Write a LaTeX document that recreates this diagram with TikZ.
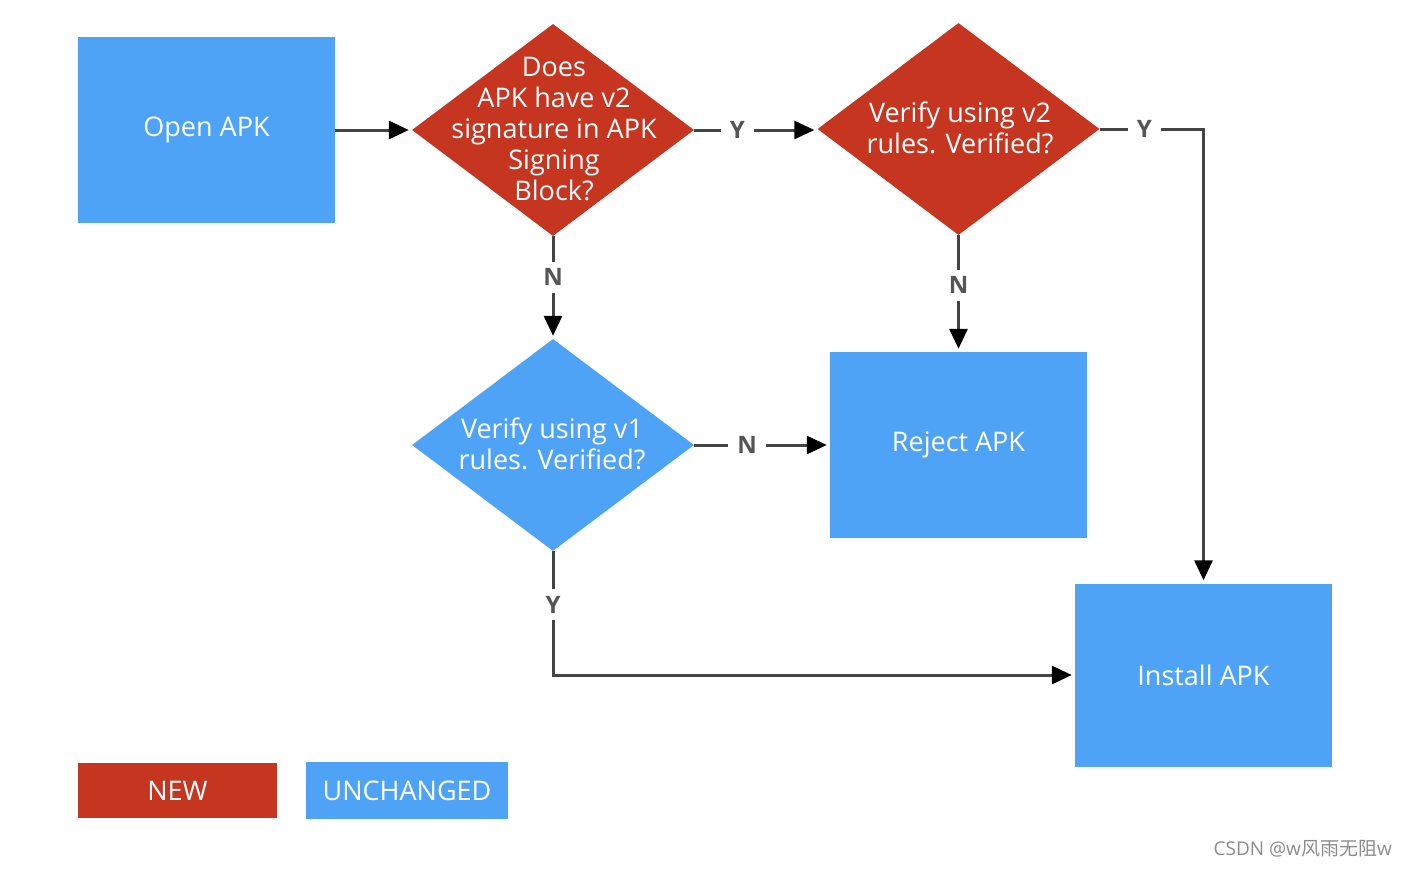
\documentclass[tikz,border=0pt]{standalone}
\usepackage{fontspec}
\setmainfont{Open Sans}
\newfontfamily\cjk{Noto Sans CJK SC}
\usetikzlibrary{shapes.geometric,arrows.meta}
\definecolor{newred}{HTML}{C5351F}
\definecolor{oldblue}{HTML}{4FA3F7}
\definecolor{linegray}{HTML}{444444}
\definecolor{labgray}{HTML}{555555}
\tikzset{
  boxnode/.style={rectangle,fill=oldblue,inner sep=0pt,text=white,font=\fontsize{27}{31}\selectfont},
  dia/.style={diamond,inner sep=0pt,minimum width=282pt,minimum height=212pt,aspect=1.33},
  diatext/.style={text=white,align=center,font=\fontsize{27}{31}\selectfont},
  conn/.style={draw=linegray,line width=3pt,-{Triangle[length=20pt,width=18pt,color=black]},shorten >=3pt},
  yn/.style={fill=white,text=labgray,font=\fontsize{24}{24}\selectfont\bfseries,inner xsep=9pt,inner ysep=7pt},
  legendbox/.style={rectangle,inner sep=0pt,text=white,font=\fontsize{27}{31}\selectfont},
}
\begin{document}
\begin{tikzpicture}[x=1pt,y=-1pt]
\useasboundingbox (0,0) rectangle (1406,868);
% boxes
\node[boxnode,minimum width=257pt,minimum height=186pt] (open) at (206.5,130) {Open APK};
\node[boxnode,minimum width=257pt,minimum height=186pt] (reject) at (958.5,445) {Reject APK};
\node[boxnode,minimum width=257pt,minimum height=183pt] (install) at (1203.5,675) {Install APK};
% diamonds
\node[dia,fill=newred] (d1) at (553,130) {};
\node[diatext] at (554,129) {Does\\APK have v2\\signature in APK\\Signing\\Block?};
\node[dia,fill=newred] (d2) at (958.5,129) {};
\node[diatext] at (960,128) {Verify using v2\\rules. Verified?};
\node[dia,fill=oldblue] (d3) at (553,445) {};
\node[diatext] at (552,444) {Verify using v1\\rules. Verified?};
% connectors
\draw[conn] (open.east) -- (d1.west);
\draw[conn] (d1.east) -- node[yn,pos=0.35] {Y} (d1.east -| d2.west);
\draw[conn] (d1.south) -- node[yn,pos=0.4] {N} (d3.north);
\draw[conn] (d2.south) -- node[yn,pos=0.43] {N} (reject.north);
\draw[conn] (d3.east) -- node[yn,pos=0.39] {N} (reject.west);
\coordinate (c1) at (install.north |- d2.east);
\draw[conn] (d2.east) -- node[yn,pos=0.43] {Y} (c1) -- (install.north);
\coordinate (c2) at (d3.south |- install.west);
\draw[conn] (d3.south) -- node[yn,pos=0.43] {Y} (c2) -- (install.west);
% legend
\node[legendbox,fill=newred,minimum width=199pt,minimum height=55pt] (lnew) at (177.5,790.5) {NEW};
\node[legendbox,fill=oldblue,minimum width=202pt,minimum height=57pt] (lold) at (407,790.5) {UNCHANGED};
% watermark
\node[text=gray!90,anchor=east,font=\fontsize{19}{19}\selectfont,inner sep=0pt] (wm) at (1392,849) {CSDN @w{\cjk 风雨无阻}w};
\end{tikzpicture}
\end{document}
